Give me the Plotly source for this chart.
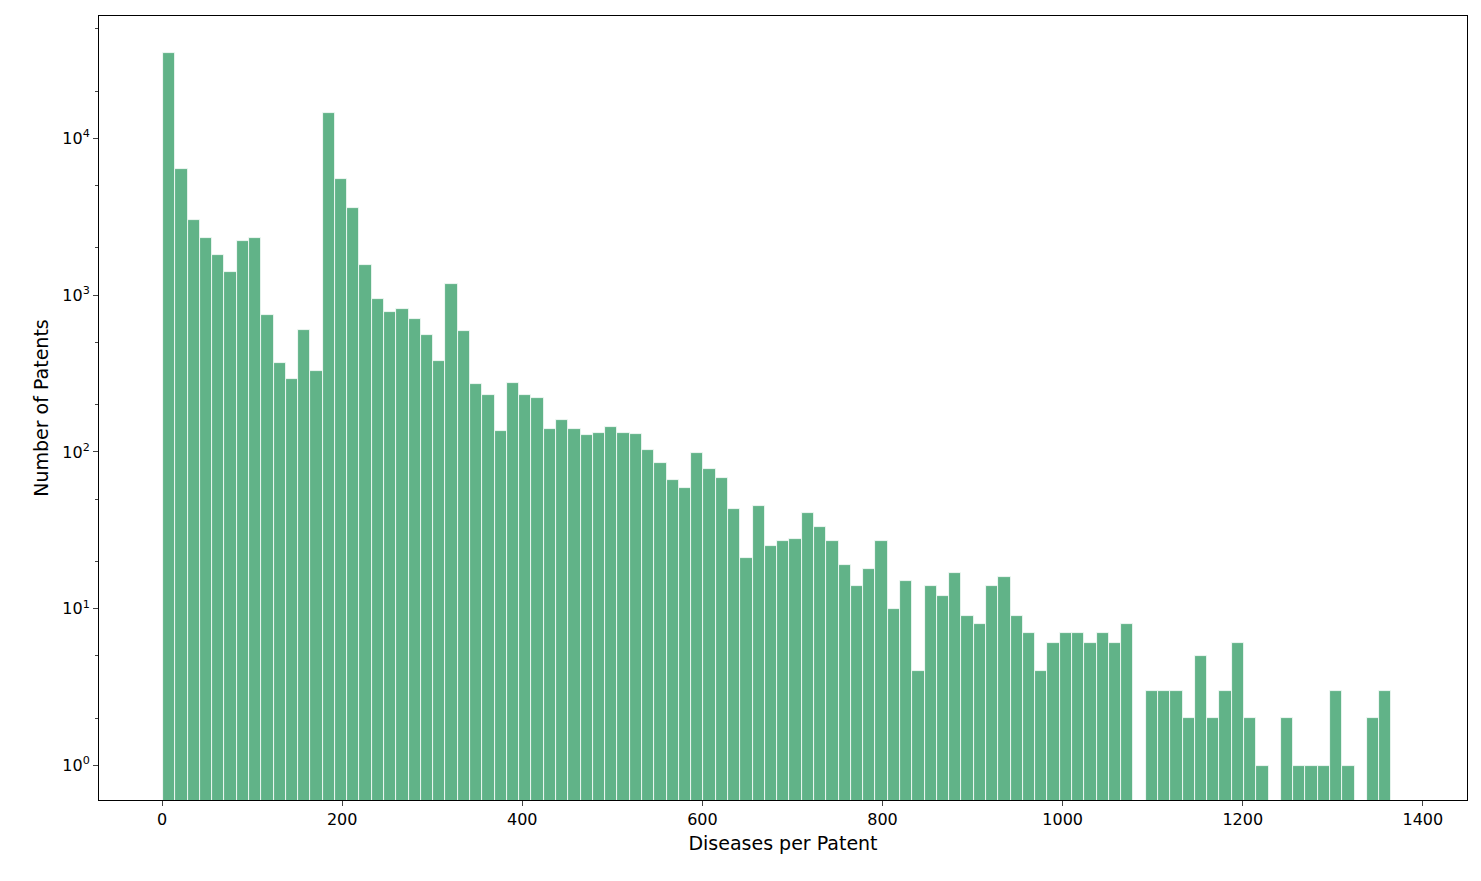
import plotly.graph_objects as go

BIN_START = 1.0
BIN_WIDTH = 13.64

counts = [35000, 6400, 3000, 2300, 1800, 1400, 2200, 2300, 750, 370,
          290, 600, 330, 14500, 5500, 3600, 1550, 950, 780, 810,
          700, 560, 380, 1170, 590, 270, 230, 135, 275, 230,
          220, 140, 160, 140, 128, 132, 145, 132, 130, 103,
          85, 66, 59, 98, 78, 68, 43, 21, 45, 25,
          27, 28, 41, 33, 27, 19, 14, 18, 27, 10,
          15, 4, 14, 12, 17, 9, 8, 14, 16, 9,
          7, 4, 6, 7, 7, 6, 7, 6, 8, 0,
          3, 3, 3, 2, 5, 2, 3, 6, 2, 1,
          0, 2, 1, 1, 1, 3, 1, 0, 2, 3]

centers = [BIN_START + BIN_WIDTH * (i + 0.5) for i in range(len(counts))]
ys = [c if c > 0 else None for c in counts]

tick_vals = [1, 10, 100, 1000, 10000]
tick_text = ["10<sup>0</sup>", "10<sup>1</sup>", "10<sup>2</sup>", "10<sup>3</sup>", "10<sup>4</sup>"]

fig = go.Figure()
fig.add_trace(go.Bar(
    x=centers, y=ys, width=BIN_WIDTH,
    marker=dict(color="#61b388", line=dict(color="white", width=0.8)),
))

fig.update_layout(
    width=1481, height=881,
    margin=dict(l=91, r=22, t=8, b=89),
    plot_bgcolor="white", paper_bgcolor="white",
    font=dict(family="DejaVu Sans", size=16, color="black"),
    showlegend=False, bargap=0,
)
fig.update_xaxes(
    range=[-70, 1449], tickvals=[0, 200, 400, 600, 800, 1000, 1200, 1400],
    title=dict(text="Diseases per Patent", font=dict(size=19), standoff=8),
    showline=True, linecolor="black", mirror=True, ticks="outside",
    showgrid=False, zeroline=False,
)
fig.update_yaxes(
    type="log", range=[-0.22, 4.78], tickvals=tick_vals, ticktext=tick_text,
    title=dict(text="Number of Patents", font=dict(size=19), standoff=8),
    showline=True, linecolor="black", mirror=True, ticks="outside",
    showgrid=False, zeroline=False,
    minor=dict(ticks="outside", ticklen=3, showgrid=False),
)

fig.write_html("out.html")
